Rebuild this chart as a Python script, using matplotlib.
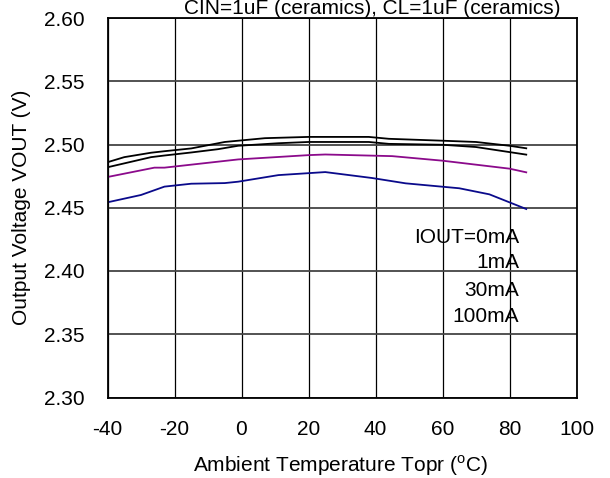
import matplotlib
matplotlib.use("Agg")
import matplotlib.pyplot as plt

plt.rcParams['font.family'] = ['Liberation Sans', 'DejaVu Sans']
plt.rcParams['mathtext.fontset'] = 'custom'
plt.rcParams['mathtext.rm'] = 'Liberation Sans'

# Data (temperature in degC, output voltage in V)
t_0mA = [-40, -35, -27, -23, -15, -5, 7, 20, 38, 44, 60, 70, 80, 85]
v_0mA = [2.486, 2.490, 2.4935, 2.4947, 2.4969, 2.502, 2.505, 2.506, 2.506, 2.5045, 2.503, 2.502, 2.499, 2.497]

t_1mA = [-40, -27, -23, -15, -7, -1, 11, 20, 38, 44, 60, 70, 85]
v_1mA = [2.482, 2.490, 2.4913, 2.4937, 2.4963, 2.499, 2.501, 2.502, 2.502, 2.5005, 2.4998, 2.498, 2.492]

t_30mA = [-40, -26, -23, -1, 20, 25, 45, 60, 80, 85]
v_30mA = [2.4743, 2.4817, 2.4817, 2.4882, 2.4916, 2.4921, 2.4908, 2.4872, 2.4809, 2.478]

t_100mA = [-40, -30, -23, -15, -5, -1, 11, 25, 39, 49, 65, 74, 85]
v_100mA = [2.4543, 2.4601, 2.4667, 2.469, 2.4695, 2.4706, 2.4758, 2.4782, 2.4735, 2.4693, 2.4654, 2.4606, 2.449]

x_ticks = [-40, -20, 0, 20, 40, 60, 80, 100]
y_ticks = [2.30, 2.35, 2.40, 2.45, 2.50, 2.55, 2.60]
legend_labels = ["IOUT=0mA", "1mA", "30mA", "100mA"]

W, H = 610, 478
fig = plt.figure(figsize=(W / 100, H / 100), dpi=100)
left, right, top, bottom = 107.5, 576.5, 18, 397.5
ax = fig.add_axes([left / W, 1 - bottom / H, (right - left) / W, (bottom - top) / H])

ax.plot(t_0mA, v_0mA, color='black', lw=1.3)
ax.plot(t_1mA, v_1mA, color='black', lw=1.3)
ax.plot(t_30mA, v_30mA, color='#8B0A8B', lw=1.3)
ax.plot(t_100mA, v_100mA, color='#0A0A8B', lw=1.3)

ax.set_xlim(-40, 100)
ax.set_ylim(2.30, 2.60)
ax.set_xticks(x_ticks)
ax.set_yticks(y_ticks)
ax.set_xticklabels([str(v) for v in x_ticks])
ax.set_yticklabels([f"{v:.2f}" for v in y_ticks])
ax.tick_params(length=0, labelsize=15)
ax.tick_params(axis='y', pad=16.5)
ax.tick_params(axis='x', pad=16)
ax.xaxis.grid(True, color='black', lw=0.9)
ax.yaxis.grid(True, color='#444444', lw=1.3)
ax.set_axisbelow(True)
for s in ax.spines.values():
    s.set_linewidth(1.3)
    s.set_color('black')

fig.text(340 / W, 1 - 466 / H, "Ambient Temperature Topr ($^{\\mathrm{o}}$C)", fontsize=15,
         ha='center', va='center')
fig.text(22 / W, 1 - 207 / H, "Output Voltage VOUT (V)", fontsize=15,
         ha='center', va='center', rotation=90)

fig.text(372 / W, 1 - 9 / H, "CIN=1uF (ceramics), CL=1uF (ceramics)", fontsize=15,
         ha='center', va='center')

ys = [237, 263, 290.5, 317]
for lab, yp in zip(legend_labels, ys):
    fig.text(519 / W, 1 - yp / H, lab, fontsize=15, ha='right', va='center')

fig.savefig("out.png", dpi=100)
